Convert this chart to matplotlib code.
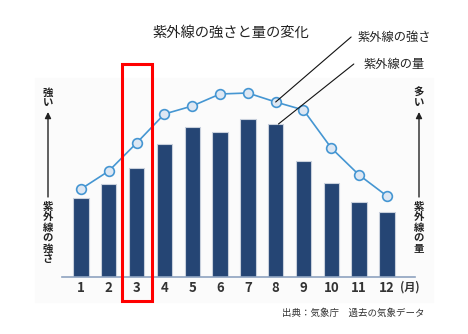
import matplotlib
matplotlib.use('Agg')
import matplotlib.pyplot as plt
from matplotlib.patches import Rectangle

plt.rcParams['font.family'] = ['Noto Sans CJK JP', 'DejaVu Sans']

# monthly values (relative)
months = list(range(1, 13))
month_labels = ['1', '2', '3', '4', '5', '6', '7', '8', '9', '10', '11', '12']
uv_amount = [79, 93, 109, 133, 150, 145, 158, 153, 116, 94, 75, 65]
uv_strength = [88, 106, 134, 163, 171, 183, 184, 175, 167, 129, 102, 81]

W, H = 468, 334
fig = plt.figure(figsize=(W / 100, H / 100), dpi=100)

# faint panel behind the chart
fig.patches.append(Rectangle((35 / W, (H - 302) / H), 398 / W, 224 / H,
                             transform=fig.transFigure, color='#fbfbfb', zorder=-1))

ax = fig.add_axes([62 / W, (H - 277) / H, 353 / W, 200 / H])
ax.set_facecolor('none')
ax.bar(months, uv_amount, width=0.55, color='#254574', edgecolor='#c8d0dc', linewidth=0.8)
ax.plot(months, uv_strength, color='#4596d2', lw=1.2, marker='o', ms=7,
        mfc='#dde7f3', mec='#4596d2', mew=1.2)
ax.set_xlim(0.317, 13.01)
ax.set_ylim(0, 200)
for s in ['top', 'left', 'right']:
    ax.spines[s].set_visible(False)
ax.spines['bottom'].set_color('#8ea3c0')
ax.spines['bottom'].set_linewidth(1.2)
ax.set_yticks([])
ax.set_xticks(months)
ax.set_xticklabels(month_labels, fontsize=9.5, fontweight='bold', color='#333333')
ax.tick_params(axis='x', length=0, pad=3)
ax.text(12.47, -0.052, '(月)', transform=ax.get_xaxis_transform(), fontsize=8,
        fontweight='bold', color='#333333', ha='left', va='center')

# leader lines to the labels
ax.annotate('紫外線の強さ', xy=(8, uv_strength[7]), xytext=(357, H - 37),
            textcoords='figure pixels', fontsize=8.8, color='#222222', ha='left', va='center',
            arrowprops=dict(arrowstyle='-', color='#111111', lw=0.8, shrinkA=0, shrinkB=0,
                            relpos=(-0.08, 0.5)))
ax.annotate('紫外線の量', xy=(8.1, uv_amount[7]), xytext=(363, H - 64),
            textcoords='figure pixels', fontsize=8.8, color='#222222', ha='left', va='center',
            arrowprops=dict(arrowstyle='-', color='#111111', lw=0.8, shrinkA=0, shrinkB=0,
                            relpos=(-0.15, 0.5)))

fig.text(152 / W, (H - 33) / H, '紫外線の強さと量の変化', fontsize=10.3, color='#222222',
         ha='left', va='center')

# vertical side labels with arrows
for xpix, top_txt, bottom_txt in [(48, '強い', '紫外線の強さ'), (419, '多い', '紫外線の量')]:
    fig.text(xpix / W, (H - 98) / H, '\n'.join(top_txt), fontsize=7.5, fontweight='bold',
             color='#222222', ha='center', va='center', linespacing=1.0)
    fig.text(xpix / W, (H - 202) / H, '\n'.join(bottom_txt), fontsize=7.5, fontweight='bold',
             color='#222222', ha='center', va='top', linespacing=1.05)
    ax.annotate('', xy=(xpix, H - 112), xytext=(xpix, H - 197), xycoords='figure pixels',
                textcoords='figure pixels',
                arrowprops=dict(arrowstyle='-|>', color='#222222', lw=1.0,
                                mutation_scale=9, shrinkA=0, shrinkB=0))

# highlight March
fig.patches.append(Rectangle((122 / W, (H - 301) / H), 30 / W, 237 / H,
                             transform=fig.transFigure, fill=False, ec='#ff0000', lw=2.2, zorder=5))

fig.text(425 / W, (H - 313) / H, '出典：気象庁　過去の気象データ', fontsize=6.8, color='#333333',
         ha='right', va='center')

fig.savefig('out.png', dpi=100)
